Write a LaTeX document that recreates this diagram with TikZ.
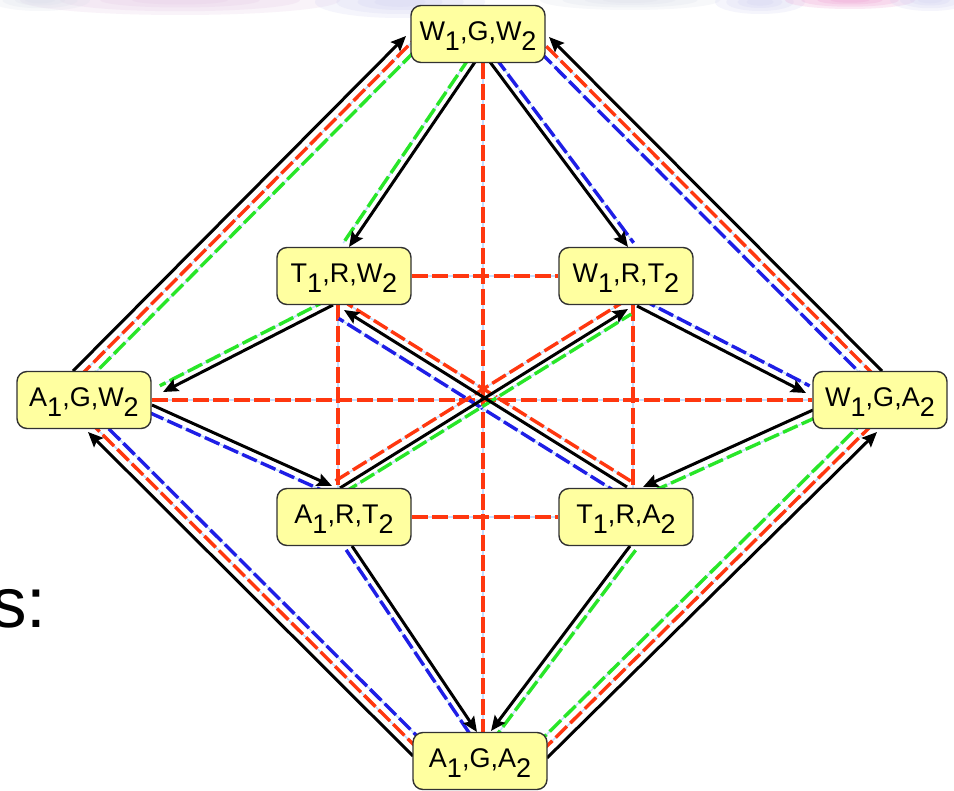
\documentclass[tikz,border=0pt]{standalone}
\usepackage{fontspec}
\setmainfont{Liberation Sans}
\usetikzlibrary{calc,arrows.meta}
\pgfdeclarelayer{bg}
\pgfsetlayers{bg,main}
\definecolor{rc}{RGB}{255,55,15}
\definecolor{gc}{RGB}{40,230,40}
\definecolor{bc}{RGB}{30,30,230}
\definecolor{gapc}{RGB}{195,222,255}
\definecolor{nodefill}{RGB}{255,255,160}
\definecolor{nodeline}{RGB}{50,50,50}
\definecolor{bgpink}{RGB}{228,196,226}
\definecolor{bglav}{RGB}{205,205,240}
\definecolor{bggray}{RGB}{215,220,232}
\definecolor{bgmag}{RGB}{236,150,205}
\newcommand\sub[1]{\raisebox{-0.36em}{#1}}
\newcommand\dsh[4]{\draw[dl,draw=#3] ($(#1)!#4!90:(#2)$) -- ($(#2)!#4!-90:(#1)$);}
\newcommand\arr[2]{\draw[ar] (#1) -- (#2);}
\begin{document}
\begin{tikzpicture}[x=1pt,y=-1pt,
  st/.style={draw=nodeline, line width=1.4pt, fill=nodefill, rounded corners=10pt,
    minimum width=134pt, minimum height=57pt, inner sep=0pt,
    font=\fontsize{27}{30}\selectfont, text depth=5pt},
  dl/.style={line width=3.4pt, dash pattern=on 16pt off 4.5pt,
    preaction={draw=gapc, solid, line width=1.4pt}},
  rl/.style={dl, draw=rc},
  ar/.style={line width=3pt, -{Stealth[length=15pt,width=13pt,inset=2.5pt]}},
]
\useasboundingbox (0,0) rectangle (954,791);

% nodes
\node[st] (top) at (478,34) {W\sub{1},G,W\sub{2}};
\node[st] (trw) at (344,276) {T\sub{1},R,W\sub{2}};
\node[st] (wrt) at (626,276) {W\sub{1},R,T\sub{2}};
\node[st] (lft) at (84,400) {A\sub{1},G,W\sub{2}};
\node[st] (rgt) at (880,400) {W\sub{1},G,A\sub{2}};
\node[st] (art) at (344,517) {A\sub{1},R,T\sub{2}};
\node[st] (tra) at (626,517) {T\sub{1},R,A\sub{2}};
\node[st] (bot) at (480,761) {A\sub{1},G,A\sub{2}};
\node[anchor=base west, inner sep=0pt, font=\fontsize{71}{80}\selectfont] (stext) at (-9,627) {s:};

% connector end points on the nodes
\coordinate (e1a) at ($(lft.center)+(-11,-29)$);
\coordinate (e1b) at ($(top.center)+(-72,2)$);
\coordinate (e2a) at ($(rgt.center)+(2,-29)$);
\coordinate (e2b) at ($(top.center)+(71,3)$);
\coordinate (e3a) at ($(bot.center)+(-67,-5)$);
\coordinate (e3b) at ($(lft.center)+(4,32)$);
\coordinate (e4a) at ($(bot.center)+(67,-3)$);
\coordinate (e4b) at ($(rgt.center)+(-3,32)$);
\coordinate (e5a) at ($(top.center)+(-3,28)$);
\coordinate (e5b) at ($(trw.center)+(5,-29)$);
\coordinate (e6a) at ($(top.center)+(12,28)$);
\coordinate (e6b) at ($(wrt.center)+(2,-29)$);
\coordinate (e7a) at ($(trw.center)+(-11,29)$);
\coordinate (e7b) at ($(lft.center)+(79,-8)$);
\coordinate (e8a) at ($(lft.center)+(68,5)$);
\coordinate (e8b) at ($(art.center)+(-12,-31)$);
\coordinate (e9a) at ($(wrt.center)+(11,30)$);
\coordinate (e9b) at ($(rgt.center)+(-74,-7)$);
\coordinate (e10a) at ($(rgt.center)+(-67,10)$);
\coordinate (e10b) at ($(tra.center)+(17,-30)$);
\coordinate (e11a) at ($(art.center)+(8,29)$);
\coordinate (e11b) at ($(bot.center)+(-3,-29)$);
\coordinate (e12a) at ($(tra.center)+(4,29)$);
\coordinate (e12b) at ($(bot.center)+(11,-30)$);
\coordinate (e13a) at ($(tra.center)+(1,-30)$);
\coordinate (e13b) at ($(trw.center)+(0,34)$);
\coordinate (e14a) at ($(art.center)+(-4,-29)$);
\coordinate (e14b) at ($(wrt.center)+(2,33)$);

\begin{pgfonlayer}{bg}
  \fill[white] (0,0) rectangle (954,791);
  % faint slide background at the top
  \foreach \x/\y/\rx/\ry/\c in {180/0/160/15/bgpink, 40/0/50/11/bggray, 400/2/85/16/bglav,
      630/0/90/10/bggray, 760/2/45/12/bglav, 850/0/65/9/bgmag, 930/0/40/11/bglav} {
    \foreach \k in {1,0.75,0.5,0.3}
      \fill[\c, opacity=0.2] (\x,\y) ellipse [x radius={\k*\rx}, y radius={\k*\ry}];
  }
  % red dashed links
  \draw[rl] ([xshift=5pt]top.south) -- ([xshift=3pt]bot.north);
  \draw[rl] (lft.east) -- (rgt.west);
  \draw[rl] (trw.east) -- (wrt.west);
  \draw[rl] (art.east) -- (tra.west);
  \draw[rl] ([xshift=-6pt]trw.south) -- ([xshift=-6pt]art.north);
  \draw[rl] ([xshift=7pt]wrt.south) -- ([xshift=7pt]tra.north);
  % coloured dashed companions
  \dsh{e1a}{e1b}{rc}{-8.5pt} \dsh{e1a}{e1b}{gc}{-17pt}
  \dsh{e2a}{e2b}{rc}{8.5pt}  \dsh{e2a}{e2b}{bc}{17pt}
  \dsh{e3a}{e3b}{rc}{-8.5pt} \dsh{e3a}{e3b}{bc}{-17pt}
  \dsh{e4a}{e4b}{rc}{8.5pt}  \dsh{e4a}{e4b}{gc}{17pt}
  \dsh{e5a}{e5b}{gc}{-7pt}
  \dsh{e6a}{e6b}{bc}{7pt}
  \dsh{e7a}{e7b}{gc}{-7pt}
  \dsh{e8a}{e8b}{bc}{-8pt}
  \dsh{e9a}{e9b}{bc}{8pt}
  \dsh{e10a}{e10b}{gc}{8pt}
  \dsh{e11a}{e11b}{bc}{-7pt}
  \dsh{e12a}{e12b}{gc}{7pt}
  \dsh{e13a}{e13b}{rc}{-7pt} \dsh{e13a}{e13b}{bc}{10pt}
  \dsh{e14a}{e14b}{rc}{8.5pt} \dsh{e14a}{e14b}{gc}{-6pt}
  % black arrows
  \arr{e1a}{e1b} \arr{e2a}{e2b} \arr{e3a}{e3b} \arr{e4a}{e4b}
  \arr{e5a}{e5b} \arr{e6a}{e6b} \arr{e7a}{e7b} \arr{e8a}{e8b}
  \arr{e9a}{e9b} \arr{e10a}{e10b} \arr{e11a}{e11b} \arr{e12a}{e12b}
  \arr{e13a}{e13b} \arr{e14a}{e14b}
\end{pgfonlayer}
\end{tikzpicture}
\end{document}
